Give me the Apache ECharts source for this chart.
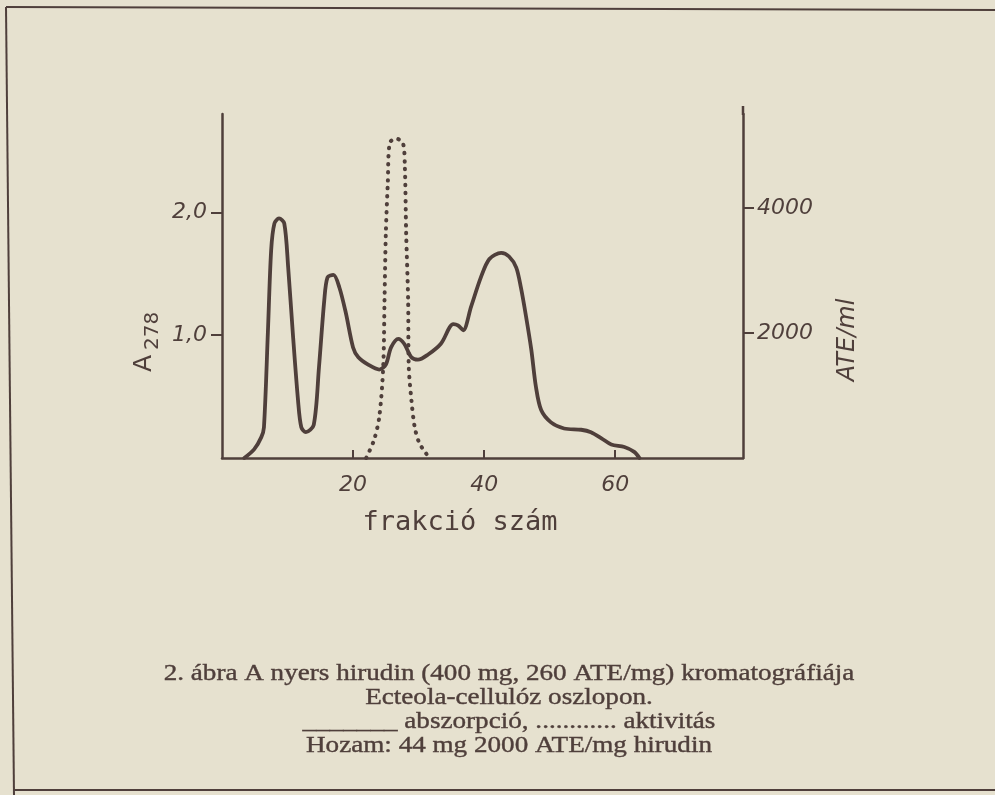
<!DOCTYPE html>
<html><head><meta charset="utf-8">
<script src="https://cdn.jsdelivr.net/npm/echarts@6/dist/echarts.min.js"></script>
<style>html,body{margin:0;padding:0;background:#e6e1cf;}#c{width:995px;height:795px;}</style>
</head><body><div id="c"></div>
<script>
// absorbance A278 vs fraction number (solid)
const absorbance = [
  [3.4,0],[4.9,0.07],[6.0,0.17],[6.4,0.25],[7.0,1.02],[7.5,1.69],[8.0,1.91],[8.7,1.95],[9.5,1.91],
  [10.1,1.55],[10.8,1.02],[11.6,0.47],[12.1,0.25],[12.8,0.21],[14.0,0.27],[14.8,0.74],[15.6,1.28],
  [16.1,1.47],[17.0,1.49],[17.9,1.39],[18.9,1.18],[20.0,0.9],[20.8,0.82],[22.3,0.76],[24.0,0.72],
  [25.0,0.76],[25.8,0.9],[26.9,0.97],[27.8,0.93],[28.9,0.82],[29.9,0.8],[31.4,0.84],[33.4,0.93],
  [35.3,1.09],[36.0,1.08],[36.8,1.04],[38.0,1.23],[39.5,1.47],[40.8,1.62],[42.6,1.67],[43.8,1.64],
  [44.9,1.55],[45.6,1.39],[46.4,1.15],[47.2,0.88],[47.9,0.58],[48.7,0.39],[50.2,0.29],[52.2,0.24],
  [54.8,0.23],[56.3,0.21],[57.9,0.16],[59.4,0.11],[61.4,0.09],[62.9,0.05],[63.7,0]
];
// activity ATE/ml vs fraction number (dotted)
const activity = [
  [22.0,0],[23.2,288],[24.0,656],[24.6,1456],[24.8,2528],[25.0,3600],[25.3,4400],[25.6,5040],
  [26.6,5104],[27.6,5040],[27.9,4656],[28.1,3600],[28.4,2528],[28.5,1456],[28.9,928],[29.4,496],
  [30.1,240],[31.1,80],[31.6,0]
];
const xTicks = [20, 40, 60];
const leftTicks = [1, 2];
const rightTicks = [2000, 4000];
const xName = 'frakció szám';
const rightName = 'ATE/ml';
const captionLines = [
  '2. ábra A nyers hirudin (400 mg, 260 ATE/mg) kromatográfiája',
  'Ecteola-cellulóz oszlopon.',
  '_______ abszorpció, ............ aktivitás',
  'Hozam: 44 mg 2000 ATE/mg hirudin'
];

const ink = '#4f3f3b';
const lab = {color: ink, fontStyle: 'italic', fontFamily: 'DejaVu Sans', fontSize: 22};
const chart = echarts.init(document.getElementById('c'));
chart.setOption({
  backgroundColor: '#e6e1cf',
  animation: false,
  grid: {left: 222, right: 252, top: 114, bottom: 337},
  xAxis: {
    type: 'value', min: 0, max: 79.5,
    axisLine: {onZero: false, lineStyle: {color: ink, width: 2.5}},
    axisTick: {inside: true, length: 8, customValues: xTicks, lineStyle: {color: ink, width: 2}},
    axisLabel: Object.assign({margin: 16, customValues: xTicks}, lab),
    splitLine: {show: false}
  },
  yAxis: [{
    type: 'value', min: 0, max: 2.8, position: 'left',
    axisLine: {show: true, onZero: false, lineStyle: {color: ink, width: 2.5}},
    axisTick: {show: true, length: 11, customValues: leftTicks, lineStyle: {color: ink, width: 2}},
    axisLabel: Object.assign({margin: 15, customValues: leftTicks,
      formatter: v => v.toFixed(1).replace('.', ',')}, lab),
    splitLine: {show: false}
  }, {
    type: 'value', min: 0, max: 5500, position: 'right',
    axisLine: {show: true, onZero: false, lineStyle: {color: ink, width: 2.5}},
    axisTick: {show: true, length: 11, customValues: rightTicks, lineStyle: {color: ink, width: 2}},
    axisLabel: Object.assign({margin: 14, customValues: rightTicks, formatter: v => String(v)}, lab),
    splitLine: {show: false}
  }],
  series: [{
    type: 'line', data: absorbance, yAxisIndex: 0, smooth: 0.3, showSymbol: false,
    lineStyle: {color: ink, width: 3.8, cap: 'round', join: 'round'}
  }, {
    type: 'line', data: activity, yAxisIndex: 1, smooth: 0.3, showSymbol: false,
    lineStyle: {color: ink, width: 4, type: [0.5, 7.5], cap: 'round'}
  }],
  graphic: [
    {type: 'line', shape: {x1: 6, y1: 7, x2: 995, y2: 10}, style: {stroke: ink, lineWidth: 2}},
    {type: 'line', shape: {x1: 6, y1: 7, x2: 14, y2: 795}, style: {stroke: ink, lineWidth: 2}},
    {type: 'line', shape: {x1: 14, y1: 790, x2: 995, y2: 790}, style: {stroke: ink, lineWidth: 2}},
    {type: 'line', shape: {x1: 743, y1: 106, x2: 743, y2: 115}, style: {stroke: ink, lineWidth: 2.5}},
    {type: 'group', x: 144, y: 372, rotation: Math.PI / 2, children: [
      {type: 'text', x: 0, y: 0, style: {text: 'A', fill: ink, fontFamily: 'DejaVu Sans', fontSize: 25, textAlign: 'left', textVerticalAlign: 'middle'}},
      {type: 'text', x: 22, y: 9, style: {text: '278', fill: ink, fontFamily: 'DejaVu Sans', fontSize: 20, textAlign: 'left', textVerticalAlign: 'middle'}}
    ]},
    {type: 'text', x: 848, y: 340, rotation: Math.PI / 2, style: {text: rightName, fill: ink, fontFamily: 'DejaVu Sans', fontStyle: 'italic', fontSize: 24, textAlign: 'center', textVerticalAlign: 'middle'}},
    {type: 'text', x: 460, y: 523, style: {text: xName, fill: ink, fontFamily: 'DejaVu Sans Mono', fontSize: 27, textAlign: 'center', textVerticalAlign: 'middle'}},
    ...captionLines.map((t, i) => ({type: 'text', x: 509, y: 674 + i * 24, scaleX: 1.13,
      style: {text: t, fill: ink, stroke: ink, lineWidth: 0.4, fontFamily: 'Liberation Serif', fontSize: 24, textAlign: 'center', textVerticalAlign: 'middle'}}))
  ]
});
</script></body></html>
